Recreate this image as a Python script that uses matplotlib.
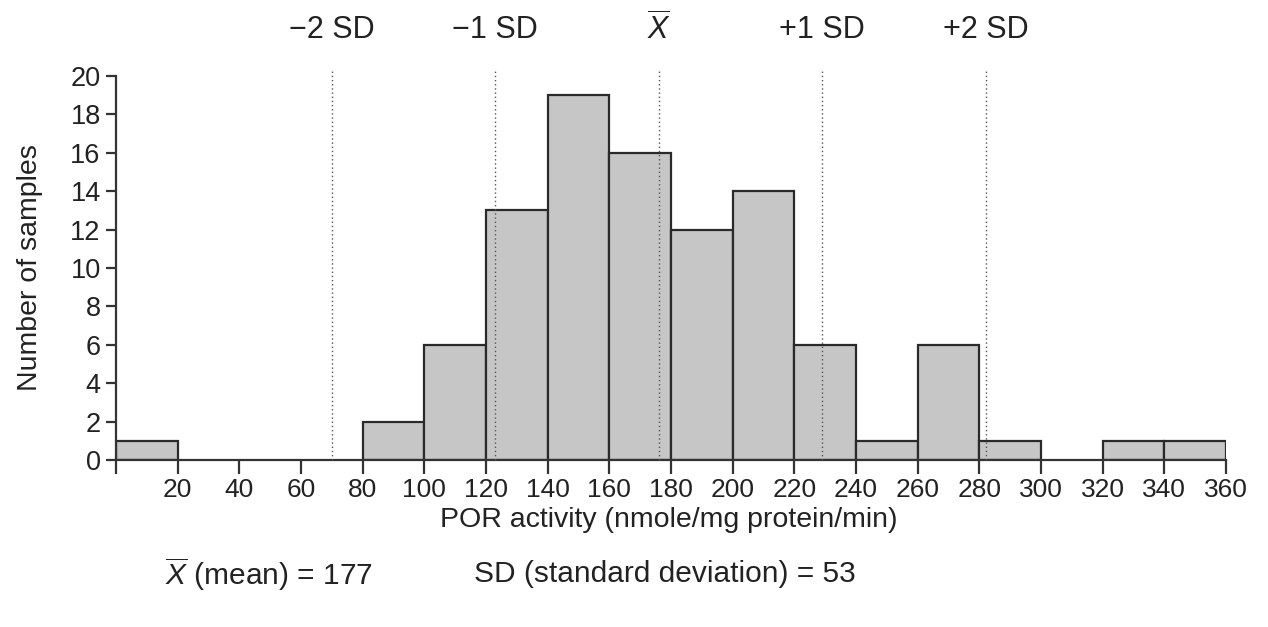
import matplotlib
matplotlib.use("Agg")
import matplotlib.pyplot as plt
import numpy as np

plt.rcParams['font.family'] = ['Liberation Sans', 'DejaVu Sans']
plt.rcParams['mathtext.fontset'] = 'custom'
plt.rcParams['mathtext.rm'] = 'Liberation Sans'
plt.rcParams['mathtext.it'] = 'Liberation Sans:italic'

# Data
bin_edges = [0, 20, 40, 60, 80, 100, 120, 140, 160, 180, 200, 220, 240, 260, 280, 300, 320, 340, 360]
counts = [1, 0, 0, 0, 2, 6, 13, 19, 16, 12, 14, 6, 1, 6, 1, 0, 1, 1]
sd_lines = [70, 123, 176, 229, 282]
sd_labels = ["\u22122 SD", "\u22121 SD", r"$\overline{X}$", "+1 SD", "+2 SD"]
x_ticks = [0, 20, 40, 60, 80, 100, 120, 140, 160, 180, 200, 220, 240, 260, 280, 300, 320, 340, 360]
x_ticklabels = [""] + [str(v) for v in x_ticks[1:]]
y_ticks = [0, 2, 4, 6, 8, 10, 12, 14, 16, 18, 20]

TXT = '#222222'
fig = plt.figure(figsize=(12.68, 6.27), dpi=100)
ax = fig.add_axes([116/1268, 1-460/627, (1226-116)/1268, (460-76)/627])

lefts = bin_edges[:-1]
widths = np.diff(bin_edges)
for l, w, c in zip(lefts, widths, counts):
    if c > 0:
        ax.bar(l, c, width=w, align='edge', color='#c6c6c6', edgecolor='#2a2a2a', linewidth=1.6, zorder=2)

for xv, lab in zip(sd_lines, sd_labels):
    ax.plot([xv, xv], [0, 20.3], linestyle=(0, (1, 2)), color='#555555', linewidth=1.0, zorder=3, clip_on=False)
    ax.text(xv, 22.4, lab, ha='center', va='center', fontsize=22, color=TXT)

ax.set_xlim(0, 360)
ax.set_ylim(0, 20)
ax.spines['top'].set_visible(False)
ax.spines['right'].set_visible(False)
for s in ['left', 'bottom']:
    ax.spines[s].set_linewidth(1.6)
    ax.spines[s].set_color('#333333')
ax.set_xticks(x_ticks)
ax.set_xticklabels(x_ticklabels)
ax.set_yticks(y_ticks)
ax.tick_params(axis='x', direction='out', length=10, width=1.6, color='#333333', labelsize=19, pad=3, labelcolor=TXT)
ax.tick_params(axis='y', direction='out', length=7, width=1.6, color='#333333', labelsize=19.5, pad=4, labelcolor=TXT)

fig.text(30/1268, 1-268/627, "Number of samples", rotation=90, ha='center', va='center', fontsize=20.5, color=TXT)
fig.text(669/1268, 1-520/627, "POR activity (nmole/mg protein/min)", ha='center', va='center', fontsize=20.5, color=TXT)
fig.text(165/1268, 1-574/627, r"$\overline{X}$ (mean) = 177", ha='left', va='center', fontsize=21.5, color=TXT)
fig.text(474/1268, 1-574/627, "SD (standard deviation) = 53", ha='left', va='center', fontsize=21.5, color=TXT)

fig.savefig("out.png", dpi=100, facecolor='white')
